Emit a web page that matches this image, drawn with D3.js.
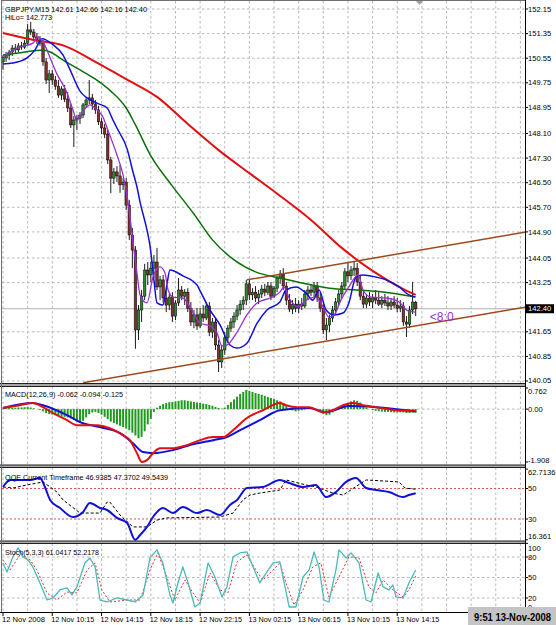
<!DOCTYPE html>
<html><head><meta charset="utf-8">
<script src="https://cdn.jsdelivr.net/npm/d3@7/dist/d3.min.js"></script>
<style>
html,body{margin:0;padding:0;background:#fff;}
svg{display:block;}
text{font-family:"Liberation Sans",Arial,sans-serif;}
</style></head><body>
<svg id="c" width="556" height="625"></svg>
<script>
// ---------------- DATA ----------------
const opens=[150.43,150.56,150.65,150.75,150.88,150.82,150.95,150.91,151.04,151.47,151.40,151.24,151.14,151.04,150.43,149.84,150.04,149.84,149.64,149.35,149.55,149.22,148.93,148.38,148.54,148.60,148.70,149.03,149.19,149.26,149.06,148.87,148.48,148.28,148.08,147.24,146.65,146.85,146.72,146.43,146.52,145.77,144.80,144.31,141.71,142.36,142.81,143.66,143.50,143.72,143.92,143.11,143.34,142.75,142.52,142.78,142.16,142.59,143.01,142.81,142.94,142.42,141.97,142.20,141.84,142.23,142.10,142.49,141.64,141.97,141.22,140.67,141.06,141.45,141.77,141.97,142.16,142.36,142.55,142.68,143.21,142.85,142.94,142.75,142.88,143.04,142.94,143.14,142.81,143.07,143.40,143.53,143.14,142.68,142.39,142.55,142.42,142.55,142.49,142.88,143.01,142.94,143.14,142.75,142.42,141.71,141.87,142.10,142.36,142.62,142.88,143.14,143.60,143.47,143.66,143.72,143.27,142.81,142.55,142.75,142.62,142.75,142.68,142.55,142.68,142.59,142.49,142.62,142.52,142.42,142.49,141.97,141.90,142.36,142.61];
const highs=[150.65,150.75,150.82,150.98,151.01,151.04,151.08,151.14,151.66,151.73,151.50,151.37,151.27,151.14,150.56,150.17,150.17,149.97,149.84,149.64,149.68,149.45,149.06,148.67,148.71,148.80,149.09,149.29,149.84,149.39,149.19,149.00,148.60,148.41,148.21,147.34,146.98,147.04,147.08,146.65,146.65,145.94,145.03,144.44,142.52,143.01,143.86,143.92,143.92,144.15,144.38,143.47,143.50,143.01,142.88,142.94,142.68,143.40,143.14,143.04,143.07,142.62,142.36,142.42,142.42,142.52,142.62,142.62,142.10,142.10,141.38,141.22,141.64,141.87,142.10,142.29,142.52,142.68,142.81,143.34,143.34,143.07,143.14,143.01,143.17,143.21,143.27,143.27,143.14,143.47,143.66,143.72,143.27,142.88,142.68,142.75,142.68,142.75,143.01,143.14,143.21,143.27,143.27,142.94,142.55,142.10,142.20,142.49,142.75,143.01,143.27,143.72,143.89,143.79,143.92,143.89,143.47,143.01,142.88,142.94,142.88,143.01,142.94,142.81,142.88,142.81,142.75,142.81,142.75,142.68,142.62,142.16,142.49,143.27,142.66];
const lows=[150.17,150.43,150.49,150.62,150.72,150.75,150.82,150.85,150.98,151.30,151.14,151.01,150.95,150.30,149.71,149.42,149.68,149.52,149.26,149.19,149.12,148.80,148.28,147.66,148.21,148.41,148.60,148.93,149.06,148.87,148.74,148.38,148.08,147.95,147.11,146.16,146.46,146.52,146.17,146.26,145.61,144.64,143.72,141.10,141.38,141.97,142.68,143.17,143.27,143.40,143.01,142.68,142.59,142.29,142.36,141.97,142.03,142.49,142.68,142.52,142.29,141.84,141.77,141.71,141.77,141.97,142.03,141.51,141.45,141.06,140.34,140.47,140.90,141.32,141.64,141.77,142.03,142.20,142.36,142.52,142.68,142.68,142.62,142.55,142.75,142.81,142.85,142.68,142.75,142.94,143.21,143.01,142.52,142.29,142.23,142.29,142.26,142.36,142.42,142.68,142.81,142.75,142.62,142.29,141.58,141.38,141.64,141.97,142.23,142.49,142.75,143.01,143.27,143.34,143.47,143.14,142.68,142.42,142.42,142.49,142.42,142.55,142.49,142.42,142.49,142.36,142.36,142.42,142.29,142.29,141.84,141.48,141.77,142.23,142.16];
const closes=[150.56,150.65,150.75,150.88,150.82,150.95,150.91,151.04,151.47,151.40,151.24,151.14,151.04,150.43,149.84,150.04,149.84,149.64,149.35,149.55,149.22,148.93,148.38,148.54,148.60,148.70,149.03,149.19,149.26,149.06,148.87,148.48,148.28,148.08,147.24,146.65,146.85,146.72,146.43,146.52,145.77,144.80,144.31,141.71,142.36,142.81,143.66,143.50,143.72,143.92,143.11,143.34,142.75,142.52,142.78,142.16,142.59,143.01,142.81,142.94,142.42,141.97,142.20,141.84,142.23,142.10,142.49,141.64,141.97,141.22,140.67,141.06,141.45,141.77,141.97,142.16,142.36,142.55,142.68,143.21,142.85,142.94,142.75,142.88,143.04,142.94,143.14,142.81,143.07,143.40,143.53,143.14,142.68,142.39,142.55,142.42,142.55,142.49,142.88,143.01,142.94,143.14,142.75,142.42,141.71,141.87,142.10,142.36,142.62,142.88,143.14,143.60,143.47,143.66,143.72,143.27,142.81,142.55,142.75,142.62,142.75,142.68,142.55,142.68,142.59,142.49,142.62,142.52,142.42,142.49,141.97,141.90,142.36,142.62,142.40];

const redMaIdx=[0,10,20,30,40,50,60,70,80,90,100,110,120,130,134];
const redMaVal=[151.37,151.14,150.95,150.43,149.87,149.29,148.41,147.56,146.81,146.07,145.29,144.38,143.63,143.04,142.85];
const greenMaIdx=[0,5,10,13,16,19,25,30,35,40,43,48,55,62,68,75,82,90,97,106,115,124,134];
const greenMaVal=[150.65,150.72,150.79,150.82,150.72,150.52,150.17,149.87,149.48,148.93,148.38,147.37,146.39,145.48,144.64,143.99,143.60,143.40,143.24,143.07,143.01,142.94,142.78];
const hiloIdx=[0,3.2,7.8,10.4,12.7,16.2,19.5,21.8,25,30.5,33.8,35.7,37,40.3,42.2,43.5,44.5,46.75,47.7,49,50,51.9,53.2,54.2,58.4,63,64,67.2,70.5,73.7,76,79.2,82.5,85.7,89.9,91.9,95.1,98.4,100.6,102.6,104.9,107.5,110.4,112.3,114.6,116.9,121.1,124.4,128.6,131.8,133.8];
const hiloVal=[150.36,150.39,150.56,150.82,151.18,150.99,150.65,150.17,149.48,149.09,148.93,148.54,148.28,147.60,146.85,146.36,145.87,144.96,144.47,143.34,142.59,142.52,143.17,143.66,143.47,143.17,142.98,142.36,141.87,141.22,141.12,141.28,141.93,142.36,142.62,143.01,143.11,142.91,142.68,143.01,142.36,142.20,142.26,142.59,143.43,143.50,143.43,143.34,143.11,142.85,142.78];
const fastMaIdx=[0,4.5,9.7,11.4,13,15.3,17.5,20.8,22.7,24,25,28.2,30.5,32.5,33.8,37,39,40.6,42.2,43.5,44.5,46.75,48.7,51,52.6,53.6,55.2,58.4,60.7,64,67.2,69.5,71.1,72.7,76,79.2,82.5,86.7,89.9,91.2,92.9,95.8,98.4,101.6,103.9,105.8,107.5,109.7,112.3,115.3,116.9,119.5,124.4,128.6,131.5,134];
const fastMaVal=[150.59,150.88,151.04,151.24,151.08,150.56,150.04,149.42,148.87,148.54,148.67,149.03,148.87,148.63,148.28,147.40,146.75,145.87,144.57,143.56,142.85,142.59,143.43,143.76,143.56,143.01,142.78,142.75,142.46,141.93,141.84,141.61,141.19,141.22,141.64,142.20,142.59,142.75,142.94,143.11,142.75,142.46,142.68,142.78,142.46,142.13,142.20,142.68,143.11,143.50,143.01,142.78,142.75,142.62,142.33,142.29];
const upperTrend=[[79.2,143.34],[171,144.92]];
const lowerTrend=[[26,139.99],[171,142.48]];

const macdHist=[0.02,0.03,0.04,0.05,0.05,0.06,
0.06,0.07,0.08,0.06,0.03,0.0,-0.03,
-0.08,-0.14,-0.18,-0.2,-0.22,-0.25,-0.27,-0.28,-0.3,-0.33,-0.38,-0.45,-0.5,
-0.42,-0.3,-0.18,-0.12,-0.1,-0.14,
-0.2,-0.28,-0.36,-0.45,-0.5,-0.55,-0.6,-0.65,-0.7,-0.76,-0.85,
-0.95,-1.05,-1.0,-0.8,-0.55,-0.35,
-0.1,0.05,0.12,0.18,0.22,0.25,0.26,
0.28,0.3,0.32,0.32,0.3,0.28,
0.26,0.24,0.22,0.2,0.18,0.15,0.12,0.08,
0.04,0.02,0.05,
0.15,0.25,0.35,0.45,0.55,0.62,0.69,
0.66,0.62,0.58,0.55,0.52,0.48,0.44,0.4,0.36,0.32,0.28,
0.22,0.12,0.02,-0.05,-0.08,-0.06,-0.04,
-0.02,0.0,0.02,0.0,-0.05,-0.1,
-0.18,-0.22,-0.2,-0.12,
-0.05,0.02,0.08,
0.15,0.22,0.28,0.32,0.3,0.24,0.15,
0.06,0.0,-0.04,-0.06,-0.08,-0.09,-0.1,-0.1,-0.11,-0.12,-0.12,-0.12,-0.12,-0.14,-0.14,-0.13,-0.125];
const macdRedIdx=[0,5.5,9.7,13,16.2,20.8,24,27.3,30.5,34.7,39,41.2,43.5,45.1,46.75,48.7,51,55.2,59.7,64,68.2,71.4,74.7,79.2,84.4,89.9,91.9,95.1,99.4,103.9,107.1,110.4,113.6,116.9,121.1,127.6,134];
const macdRedVal=[0.04,0.14,0.22,0.07,-0.14,-0.40,-0.58,-0.58,-0.58,-0.69,-0.94,-1.12,-1.59,-1.91,-1.84,-1.59,-1.41,-1.41,-1.30,-1.12,-1.01,-1.01,-0.76,-0.32,-0.04,0.22,0.14,0.07,0.07,-0.11,-0.04,0.14,0.22,0.14,0.07,-0.04,-0.06];
const macdBlueIdx=[0,9.7,13,20.8,25,31.5,38,42.2,45.5,48.7,55.2,60.7,68.2,72.7,77,83.4,89.9,99.4,104.9,112.3,121.1,134];
const macdBlueVal=[0.04,0.22,0.14,-0.22,-0.47,-0.65,-0.87,-1.23,-1.55,-1.59,-1.48,-1.30,-1.12,-1.01,-0.76,-0.40,-0.04,0.04,-0.11,0.11,0.07,-0.09];

const qqeIdx=[0,2.3,4.5,8.8,12,13.6,15.3,18.5,22.7,26,28.2,31.5,33.8,37,40.3,42.9,44.5,46.75,48.7,51.9,55.2,58.4,63,66.2,70.5,73.7,76,79.2,84.4,89.9,92.9,97.4,101.6,104.9,108.1,111.4,114.6,117.9,121.1,125.3,129.9,131.8,134];
const qqeVal=[51.0,55.6,55.6,55.6,56.9,51.0,42.5,37.2,31.3,34.6,40.5,37.2,35.9,30.7,27.4,16.4,19.5,24.8,31.3,37.2,33.9,37.9,33.9,35.9,32.6,39.2,42.5,50.3,51.0,55.6,53.6,51.0,52.3,44.4,47.7,54.3,56.9,50.3,49.0,47.7,44.4,45.7,46.9];
const qqeSlowIdx=[0,3.2,7.8,13,15.3,17.5,19.5,25,31.5,33.8,34.7,38,42.2,46.75,50,53.2,70.5,74.7,77.9,80.2,83.4,89.9,91.9,98.4,101.6,107.1,110.4,117.9,128.6,130.5,134];
const qqeSlowVal=[51.0,50.3,52.3,54.3,51.0,47.7,42.5,33.9,33.9,41.1,41.1,32.6,24.8,24.8,29.3,30.7,31.3,33.9,42.5,45.7,47.0,49.0,55.6,52.3,51.0,47.0,45.7,55.6,54.3,50.3,49.5];
const qqeLevels=[50,30];

const stochIdx=[0,1.3,3.2,4.9,6.5,8.1,9.7,12,14.3,16.2,18.5,20.8,22.4,24,26.6,28.2,29.9,31.5,33.8,37,40.3,42.9,45.5,47.7,50,51.9,54.2,55.2,56.8,58.4,60.1,62.3,64,66.6,68.8,71.1,72.7,74.7,76.9,79.2,81.2,83.4,85.7,87.7,89.9,92.9,95.1,97.4,99.4,101,102.6,104.2,105.8,108.1,109.1,111.4,113,115.6,117.9,119.5,121.8,123.4,125.3,126.6,127.6,129.9,131.8,134];
const stochVal=[71.3,58.1,80.1,93.3,80.1,75.7,65.4,42.0,17.1,20.1,31.8,34.7,24.5,36.2,71.3,78.6,65.4,17.1,14.2,20.1,17.1,14.2,24.5,78.6,90.3,71.3,24.5,12.7,42.0,65.4,42.0,6.9,12.7,71.3,50.7,21.5,36.2,80.1,85.9,87.4,65.4,42.0,58.1,71.3,72.8,6.9,6.9,50.7,61.1,87.4,65.4,17.1,14.2,61.1,90.3,78.6,85.9,71.3,17.1,14.2,56.6,36.2,31.8,39.1,21.5,20.1,42.0,61.0];
const sigIdx=[0,2.3,5.5,8.8,11,14.3,17.5,20.8,24,27.3,29.9,32.1,34.7,40.3,44.5,47.7,50.3,53.2,55.8,59.1,61.7,64,67.2,70.5,73,76,79.2,82.5,84.4,87.7,89.9,91.9,94.5,97.4,100.6,103.2,105.8,109.1,112.3,115.6,118.8,121.1,123.4,126.6,129.9,131.8,134];
const sigVal=[75.7,61.1,83.0,75.7,61.1,27.4,17.1,28.8,27.4,61.1,71.3,31.8,14.2,17.1,17.1,61.1,85.9,50.7,17.1,46.4,27.4,12.7,56.6,31.8,27.4,72.8,83.0,58.1,46.4,61.1,71.3,42.0,9.8,31.8,65.4,71.3,21.5,50.7,80.1,78.6,36.2,27.4,46.4,31.8,21.5,31.8,52.2];
const stochLevels=[80,50,20];

const priceTicks=[152.15,151.35,150.55,149.75,148.95,148.10,147.30,146.50,145.70,144.90,144.05,143.25,141.65,140.85,140.05];
const macdTicks=[0.762,0.00,-1.908];
const macdTickText=["0.762","0.00","-1.908"];
const qqeTicks=[62.7136,50,30,16.361];
const qqeTickText=["62.7136","50","30","16.361"];
const stochTicks=[100,80,50,20,0];
const timeLabels=["12 Nov 2008","12 Nov 10:15","12 Nov 14:15","12 Nov 18:15","12 Nov 22:15","13 Nov 02:15","13 Nov 06:15","13 Nov 10:15","13 Nov 14:15"];
const timeIdx=[0,16,32,48,64,80,96,112,128];
const bid=142.40;

// ---------------- DRAW ----------------
const svg=d3.select("#c");
const AX=525.5;
const x=d3.scaleLinear().domain([0,134]).range([3,415.7]);
const yMain=d3.scaleLinear().domain([140.05,152.15]).range([381,9]);
const yMacd=d3.scaleLinear().domain([-1.908,0.762]).range([462,388]);
const yQqe=d3.scaleLinear().domain([16.361,62.7136]).range([539.8,469.1]);
const ySto=d3.scaleLinear().domain([0,100]).range([611.7,543.3]);
const panels=[{top:1,bottom:383.5,m:3},{top:386.5,bottom:465,m:4.5},{top:467.5,bottom:541,m:5},{top:543.5,bottom:612.5,m:5}];
const defs=svg.append("defs");
panels.forEach((p,i)=>defs.append("clipPath").attr("id","cp"+i).append("rect")
  .attr("x",2).attr("y",p.top).attr("width",AX-2).attr("height",p.bottom-p.top));
const G=panels.map((p,i)=>svg.append("g").attr("clip-path",`url(#cp${i})`));

const gridCol="#b8b8b8", gridDash="2.5,2.5";
const gridIdx=d3.range(0,172,8);
panels.forEach((p,i)=>{
  G[i].selectAll("line.vg").data(gridIdx).join("line").attr("class","vg")
    .attr("x1",d=>x(d)).attr("x2",d=>x(d)).attr("y1",p.top).attr("y2",p.bottom)
    .attr("stroke",gridCol).attr("stroke-dasharray",gridDash);
});
function hgrid(g,vals,ys,col,dash){
  g.selectAll(null).data(vals).join("line")
   .attr("x1",2).attr("x2",AX).attr("y1",d=>ys(d)).attr("y2",d=>ys(d))
   .attr("stroke",col).attr("stroke-dasharray",dash);
}
hgrid(G[0],priceTicks,yMain,gridCol,gridDash);
hgrid(G[1],[0],yMacd,gridCol,gridDash);
hgrid(G[3],stochLevels,ySto,gridCol,gridDash);
hgrid(G[2],qqeLevels,yQqe,"#e05050","2,2");
// bid line
G[0].append("line").attr("x1",2).attr("x2",AX).attr("y1",yMain(bid)).attr("y2",yMain(bid)).attr("stroke","#b0b0b0");

// candles
const idxs=d3.range(opens.length);
G[0].selectAll("line.wick").data(idxs).join("line").attr("class","wick")
  .attr("x1",i=>x(i)).attr("x2",i=>x(i)).attr("y1",i=>yMain(highs[i])).attr("y2",i=>yMain(lows[i]))
  .attr("stroke","#000").attr("stroke-width",0.9);
G[0].selectAll("rect.body").data(idxs).join("rect").attr("class","body")
  .attr("x",i=>x(i)-1.25).attr("width",2.5)
  .attr("y",i=>yMain(Math.max(opens[i],closes[i])))
  .attr("height",i=>Math.max(Math.abs(yMain(opens[i])-yMain(closes[i])),0.8))
  .attr("fill",i=>closes[i]>=opens[i]?"#2f8a2f":"#83302c")
  .attr("stroke","#000").attr("stroke-width",0.5);

function drawLine(g,idx,vals,ys,color,w,dash,curve){
  g.append("path").datum(d3.zip(idx,vals))
   .attr("fill","none").attr("stroke",color).attr("stroke-width",w)
   .attr("stroke-dasharray",dash||null).attr("stroke-linejoin","round")
   .attr("d",d3.line().x(d=>x(d[0])).y(d=>ys(d[1])).curve(curve||d3.curveLinear));
}
drawLine(G[0],greenMaIdx,greenMaVal,yMain,"#0a700a",1.5,null,d3.curveMonotoneX);
drawLine(G[0],redMaIdx,redMaVal,yMain,"#e01010",2,null,d3.curveMonotoneX);
drawLine(G[0],hiloIdx,hiloVal,yMain,"#1010d8",1.5,null,d3.curveMonotoneX);
drawLine(G[0],fastMaIdx,fastMaVal,yMain,"#9a30d0",1.3,null,d3.curveMonotoneX);
[upperTrend,lowerTrend].forEach(t=>{
  G[0].append("line").attr("x1",x(t[0][0])).attr("y1",yMain(t[0][1])).attr("x2",x(t[1][0])).attr("y2",yMain(t[1][1]))
   .attr("stroke","#9c4a1c").attr("stroke-width",1.5);
});
svg.append("text").attr("x",x(138.6)).attr("y",yMain(142.0)).attr("fill","#9a30d0")
  .attr("font-size","12px").text("<8:0");

// MACD
G[1].selectAll("rect.h").data(idxs).join("rect").attr("class","h")
  .attr("x",i=>x(i)-1).attr("width",2)
  .attr("y",i=>Math.min(yMacd(0),yMacd(macdHist[i])))
  .attr("height",i=>Math.abs(yMacd(macdHist[i])-yMacd(0)))
  .attr("fill","#1f9a1f");
drawLine(G[1],macdBlueIdx,macdBlueVal,yMacd,"#1010d8",2,null,d3.curveMonotoneX);
drawLine(G[1],macdRedIdx,macdRedVal,yMacd,"#e01010",2,null,d3.curveMonotoneX);

// QQE
drawLine(G[2],qqeSlowIdx,qqeSlowVal,yQqe,"#000",1,"3,2");
drawLine(G[2],qqeIdx,qqeVal,yQqe,"#1010d8",2,null,d3.curveMonotoneX);

// Stoch
drawLine(G[3],sigIdx,sigVal,ySto,"#e03030",1,"2,2");
drawLine(G[3],stochIdx,stochVal,ySto,"#4cb8b8",1.3);

// separators & borders
svg.append("rect").attr("x",1.5).attr("y",0.5).attr("width",AX-1.5).attr("height",383).attr("fill","none").attr("stroke","#707070");
[[383.5,386.5],[465,467.5],[541,543.5]].forEach(s=>{
  svg.append("rect").attr("x",0).attr("y",s[0]).attr("width",AX).attr("height",s[1]-s[0]).attr("fill","#a8a8a8");
  svg.append("line").attr("x1",0).attr("x2",AX).attr("y1",s[0]).attr("y2",s[0]).attr("stroke","#202020");
  svg.append("line").attr("x1",0).attr("x2",AX).attr("y1",s[1]).attr("y2",s[1]).attr("stroke","#202020");
});
svg.append("line").attr("x1",1.5).attr("x2",1.5).attr("y1",0.5).attr("y2",612.5).attr("stroke","#707070");
svg.append("line").attr("x1",0).attr("x2",AX).attr("y1",612.5).attr("y2",612.5).attr("stroke","#000");
svg.append("line").attr("x1",AX).attr("x2",AX).attr("y1",0).attr("y2",613).attr("stroke","#000");
svg.append("path").attr("d","M416,1L423,1L419.5,5Z").attr("fill","#a0a0a0");

// right axis labels
function axisLabels(vals,texts,ys,p){
  vals.forEach((v,k)=>{
    let yy=ys(v); yy=Math.max(p.top+p.m,Math.min(p.bottom-p.m,yy));
    svg.append("line").attr("x1",AX).attr("x2",AX+2.5).attr("y1",ys(v)).attr("y2",ys(v)).attr("stroke","#000");
    svg.append("text").attr("x",528).attr("y",yy).attr("dy","0.35em").attr("font-size","7.6px").attr("fill","#000").text(texts[k]);
  });
}
axisLabels(priceTicks,priceTicks.map(d=>d.toFixed(2)),yMain,panels[0]);
axisLabels(macdTicks,macdTickText,yMacd,panels[1]);
axisLabels(qqeTicks,qqeTickText,yQqe,panels[2]);
axisLabels(stochTicks,stochTicks.map(String),ySto,panels[3]);
// bid box
svg.append("rect").attr("x",526).attr("y",yMain(bid)-4.5).attr("width",28).attr("height",9).attr("fill","#000");
svg.append("text").attr("x",528).attr("y",yMain(bid)).attr("dy","0.35em").attr("font-size","7.6px").attr("fill","#fff").text(bid.toFixed(2));

// time axis
timeIdx.forEach((t,k)=>{
  svg.append("line").attr("x1",x(t)).attr("x2",x(t)).attr("y1",612.5).attr("y2",616).attr("stroke","#000");
  svg.append("text").attr("x",x(t)-1).attr("y",621.5).attr("font-size","7.8px").attr("textLength",43).attr("lengthAdjust","spacingAndGlyphs").text(timeLabels[k]);
});

// panel titles
function label(txt,xx,yy,len){
  svg.append("text").attr("x",xx).attr("y",yy).attr("font-size","8px").attr("fill","#000")
   .attr("textLength",len).attr("lengthAdjust","spacingAndGlyphs").text(txt);
}
label("GBPJPY,M15  142.61 142.66 142.16 142.40",5,11.5,142);
label("HiLo= 142.773",5,19.5,47);
label("MACD(12,26,9) -0.062 -0.094 -0.125",5,396.5,118);
label("QQE Current Timeframe 46.9385 47.3702 49.5439",5,479.5,163);
label("Stoch(5,3,3) 61.0417 52.2178",5,554.5,94);

// clock box
svg.append("rect").attr("x",468).attr("y",607).attr("width",88).attr("height",18).attr("fill","#c4c4c4");
svg.append("text").attr("x",474).attr("y",620.5).attr("font-size","10px").attr("font-weight","bold")
  .attr("textLength",77).attr("lengthAdjust","spacingAndGlyphs").text("9:51 13-Nov-2008");
</script></body></html>
